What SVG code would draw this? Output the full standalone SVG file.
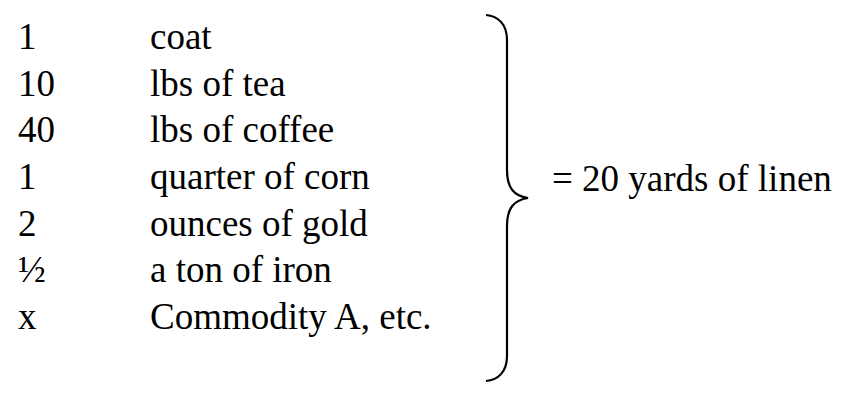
<svg xmlns="http://www.w3.org/2000/svg" width="864" height="402" viewBox="0 0 864 402">
<style>
.t{font-family:'Liberation Serif',Tinos,'Times New Roman','DejaVu Serif',serif;font-size:37px;fill:#000}
.brace{fill:none;stroke:#000;stroke-width:2.2;stroke-linecap:butt}
</style>
<rect width="864" height="402" fill="#fff"/>
<g id="quantities" class="t" font-family="Liberation Serif, Tinos, DejaVu Serif, serif">
<text x="18" y="49">1</text>
<text x="18" y="95.7">10</text>
<text x="18" y="142.3">40</text>
<text x="18" y="189">1</text>
<text x="18" y="235.7">2</text>
<text x="18" y="282.3">½</text>
<text x="18" y="329">x</text>
</g>
<g id="commodities" class="t" font-family="Liberation Serif, Tinos, DejaVu Serif, serif">
<text x="150" y="49">coat</text>
<text x="150" y="95.7">lbs of tea</text>
<text x="150" y="142.3">lbs of coffee</text>
<text x="150" y="189">quarter of corn</text>
<text x="150" y="235.7">ounces of gold</text>
<text x="150" y="282.3">a ton of iron</text>
<text x="150" y="329">Commodity A, etc.</text>
</g>
<g id="brace">
<path class="brace" d="M486,15 C498,16 507,24 507,40 L507,170 C507,188 514,196 528,198 C514,200 507,208 507,226 L507,356 C507,372 498,380 486,381"/>
</g>
<g id="result" class="t" font-family="Liberation Serif, Tinos, DejaVu Serif, serif">
<text x="552" y="190.5">= 20 yards of linen</text>
</g>
</svg>
